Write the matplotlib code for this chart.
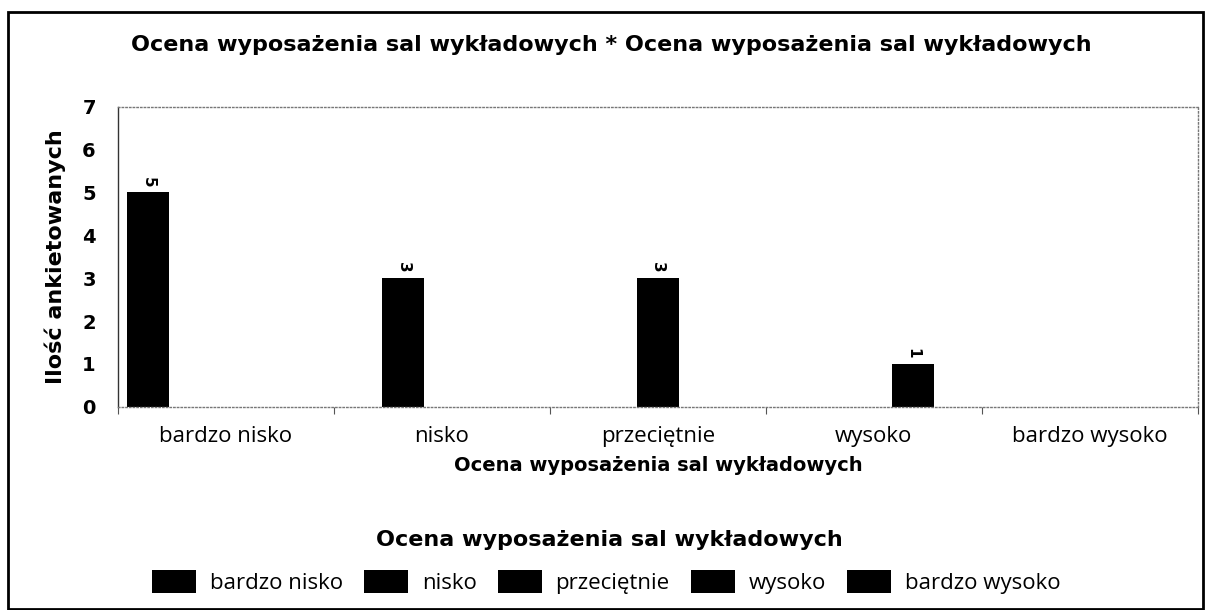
import matplotlib
matplotlib.use("Agg")
import matplotlib.pyplot as plt
from matplotlib.patches import Rectangle
import numpy as np

# dane z ankiety
categories = ["bardzo nisko", "nisko", "przeciętnie", "wysoko", "bardzo wysoko"]
counts = [5, 3, 3, 1, 0]
yticks = [0, 1, 2, 3, 4, 5, 6, 7]

title = "Ocena wyposażenia sal wykładowych * Ocena wyposażenia sal wykładowych"
xlabel = "Ocena wyposażenia sal wykładowych"
ylabel = "Ilość ankietowanych"

bold_font = ["DejaVu Sans"]
plain = ["Open Sans", "DejaVu Sans"]

fig = plt.figure(figsize=(12.05, 6.1), dpi=100)
ax = fig.add_axes([0.098, 0.333, 0.896, 0.492])

x = np.arange(len(categories))
n = len(categories)
step = 0.18
width = 0.195
bars = []
for i, (name, val) in enumerate(zip(categories, counts)):
    # każda kategoria jest osobną serią (jak w Excelu)
    pos = x[i] + (i - (n - 1) / 2) * step
    b = ax.bar(pos, val, width=width, color="black", label=name)
    bars.append(b)
    if val > 0:
        ax.text(pos, val + 0.12, str(val), rotation=-90, ha="center",
                va="bottom", fontsize=11, fontweight="bold", family=bold_font)

ax.set_xlim(-0.5, n - 0.5)
ax.set_ylim(0, 7)
ax.set_yticks(yticks)
ax.set_yticklabels([str(v) for v in yticks], fontsize=14, fontweight="bold",
                   family=bold_font)
ax.tick_params(axis="y", length=0, pad=16)
ax.set_xticks(x)
ax.set_xticklabels(categories, fontsize=16, family=plain)
ax.tick_params(axis="x", length=0, pad=14)
ax.set_xticks(np.arange(n + 1) - 0.5, minor=True)
ax.tick_params(axis="x", which="minor", length=5, width=0.8, color="#555555")

for side in ["top", "right", "bottom"]:
    ax.spines[side].set_linestyle(":")
    ax.spines[side].set_color("#777777")
    ax.spines[side].set_linewidth(1.0)
ax.spines["left"].set_color("#333333")
ax.spines["left"].set_linewidth(1.0)

ax.set_xlabel(xlabel, fontsize=14, fontweight="bold", family=bold_font,
              labelpad=6)
ax.set_ylabel(ylabel, fontsize=16, fontweight="bold", family=bold_font,
              labelpad=12)

fig.text(0.507, 0.926, title, ha="center", va="center", fontsize=16,
         fontweight="bold", family=bold_font)

# tytuł legendy osobno, żeby zachować odstęp jak w oryginale
fig.text(0.506, 0.115, xlabel, ha="center", va="center", fontsize=16,
         fontweight="bold", family=bold_font)
leg = fig.legend(handles=[b[0] for b in bars], labels=categories, ncol=5,
                 loc="center", bbox_to_anchor=(0.503, 0.046), frameon=False,
                 fontsize=16, handlelength=2.0, handleheight=1.2,
                 columnspacing=0.95, handletextpad=0.6, borderpad=0.2)
for t in leg.get_texts():
    t.set_family(plain)

# ramka wokół całego wykresu
fig.patches.append(Rectangle((0.007, 0.002), 0.991, 0.978,
                             transform=fig.transFigure, fill=False,
                             edgecolor="black", linewidth=2))

fig.savefig("out.png", dpi=100)
